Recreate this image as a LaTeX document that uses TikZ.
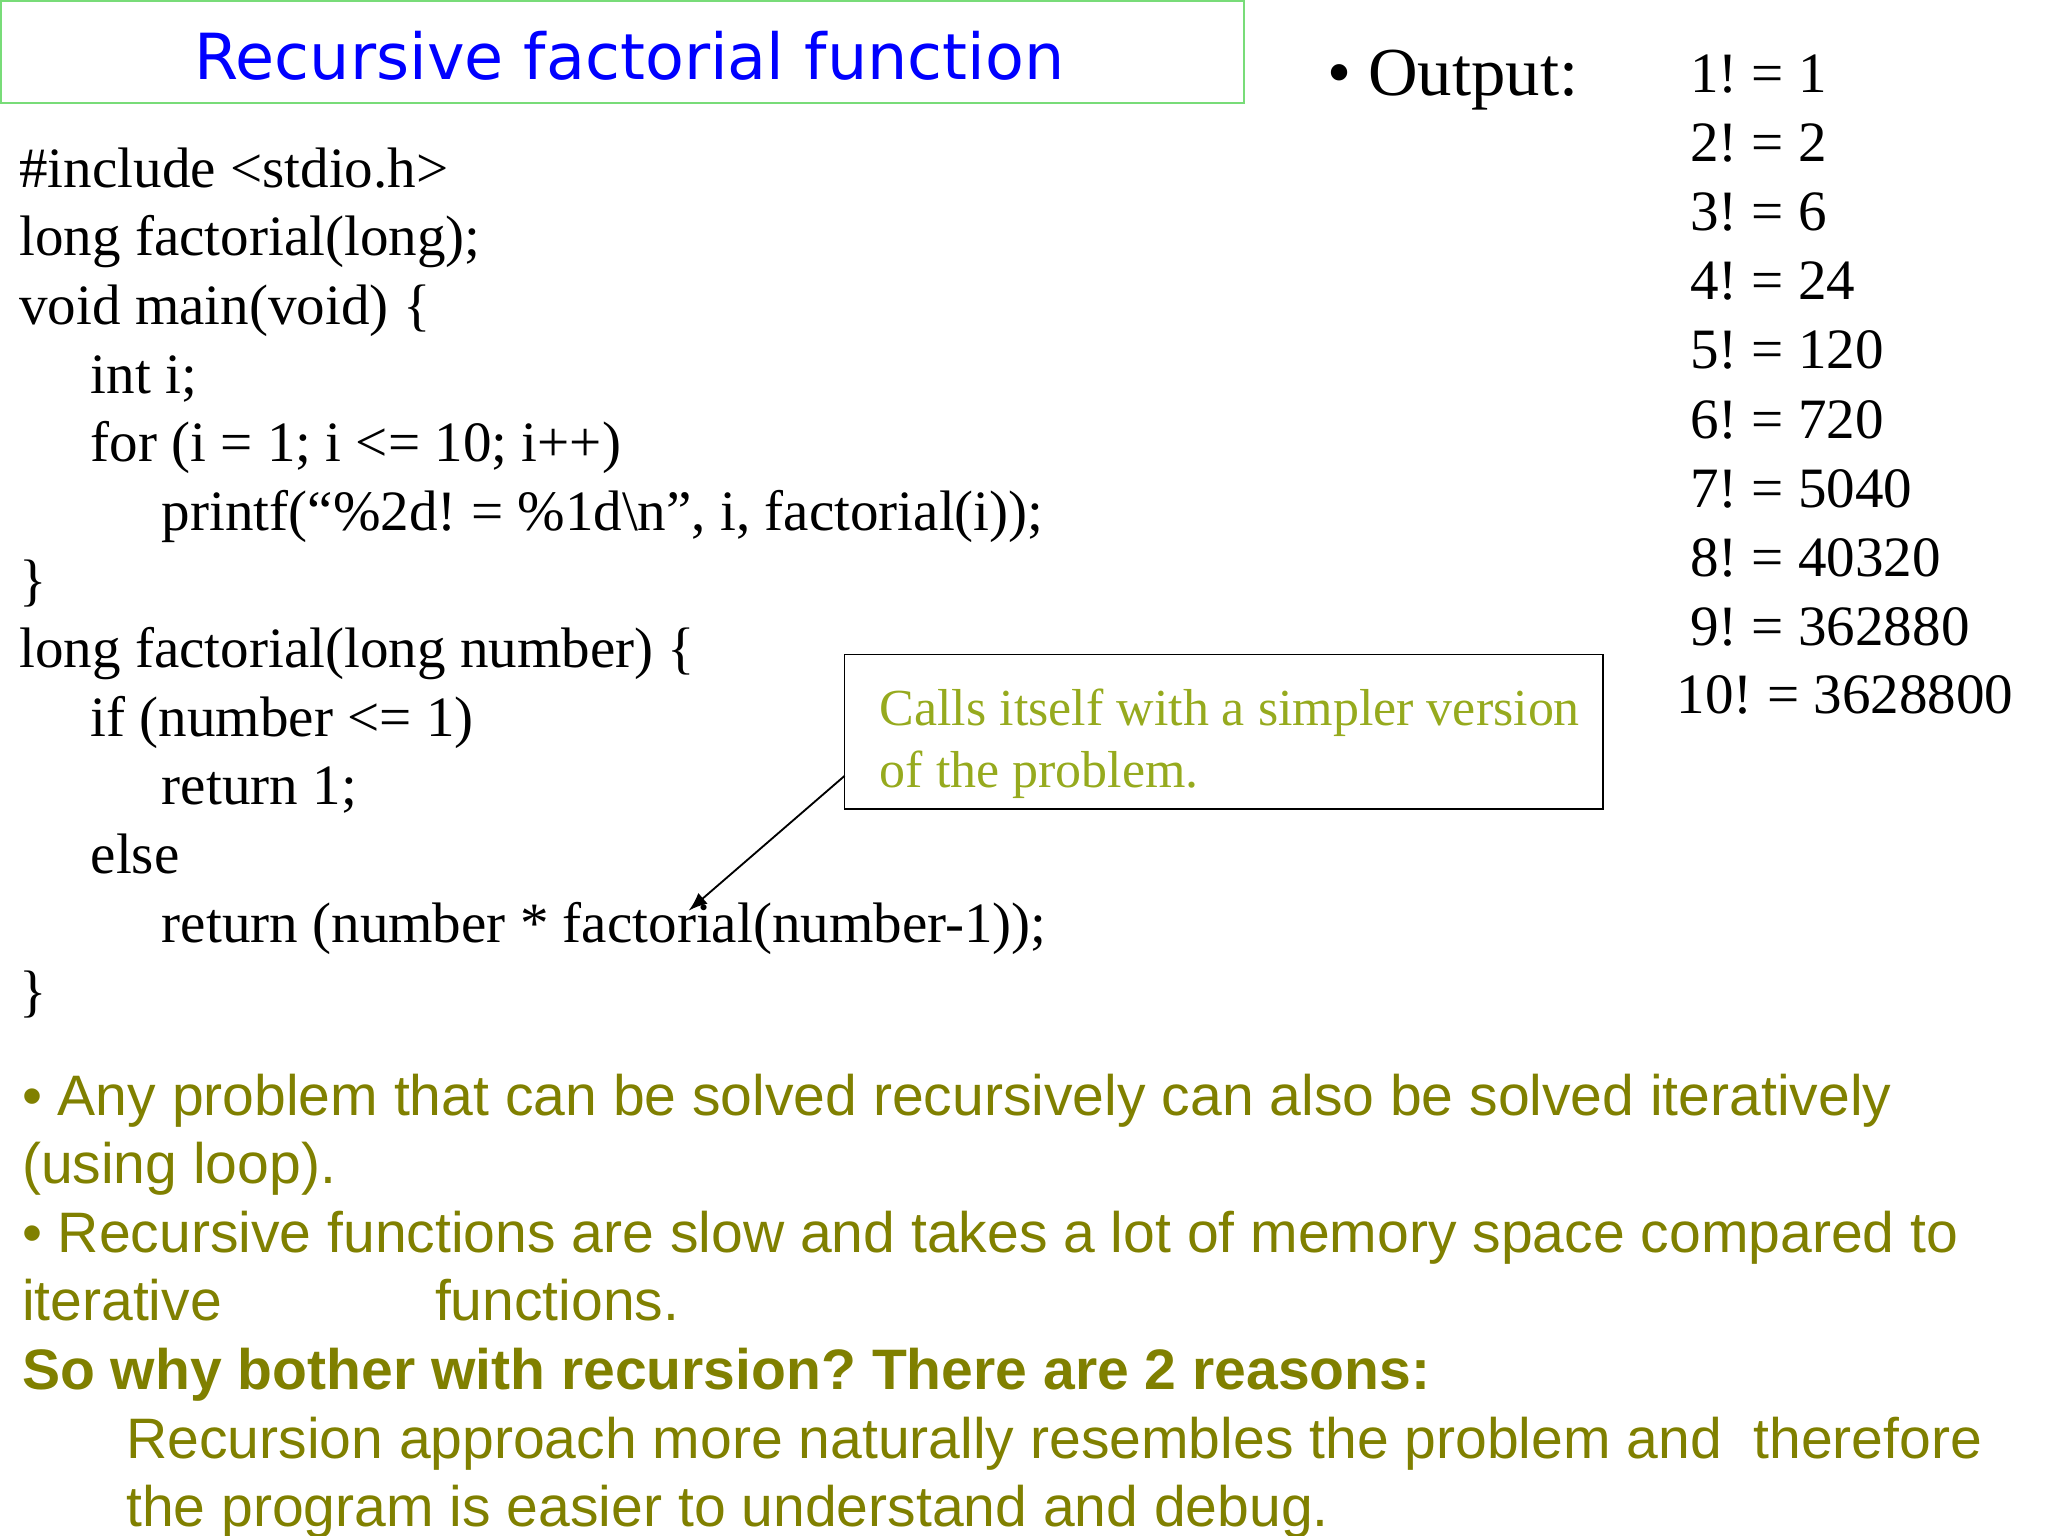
\documentclass[tikz,border=0pt]{standalone}
\usepackage{fontspec}
\setmainfont{Liberation Serif}
\newfontfamily\titlefont{DejaVu Sans}
\newfontfamily\notefont{Liberation Sans}
\definecolor{olivetext}{RGB}{128,128,0}
\definecolor{calltext}{RGB}{150,170,30}
\definecolor{boxgreen}{RGB}{120,220,120}
\frenchspacing
\tikzset{
  codeline/.style={anchor=base west,inner sep=0pt,font=\fontsize{12.3}{15}\selectfont},
  outline/.style={anchor=base west,inner sep=0pt,font=\fontsize{12.3}{15}\selectfont},
  noteline/.style={anchor=base west,inner sep=0pt,text=olivetext,font=\notefont\fontsize{12.3}{15}\selectfont},
  callline/.style={anchor=base west,inner sep=0pt,text=calltext,font=\fontsize{11.2}{13}\selectfont},
}
\begin{document}
\begin{tikzpicture}[x=0.01cm,y=-0.01cm]
  \useasboundingbox (0,0) rectangle (1552,1164);

  % title
  \draw[boxgreen] (1,1) rectangle (943,78);
  \node[inner sep=0pt,text=blue,font=\titlefont\fontsize{13.7}{16}\selectfont] (title) at (477,42) {Recursive factorial function};

  % code
  \node[codeline] (c1) at (14,142) {\#include <stdio.h>};
  \node[codeline] (c2) at (14,194) {long factorial(long);};
  \node[codeline] (c3) at (14,246) {void main(void) \{};
  \node[codeline] (c4) at (68,298) {int i;};
  \node[codeline] (c5) at (68,350) {for (i = 1; i <= 10; i++)};
  \node[codeline] (c6) at (122,402) {printf(“\%2d! = \%1d\textbackslash n”, i, factorial(i));};
  \node[codeline] (c7) at (14,454) {\}};
  \node[codeline] (c8) at (14,506) {long factorial(long number) \{};
  \node[codeline] (c9) at (68,558) {if (number <= 1)};
  \node[codeline] (c10) at (122,610) {return 1;};
  \node[codeline] (c11) at (68,662) {else};
  \node[codeline] (c12) at (122,714) {return (number * factorial(number-1));};
  \node[codeline] (c13) at (14,766) {\}};

  % output
  \node[outline,font=\fontsize{14.8}{17}\selectfont] (out) at (1005,72) {\textbullet\ Output:};
  \foreach \n/\v [count=\k] in {1/1,2/2,3/6,4/24,5/120,6/720,7/5040,8/40320,9/362880}
    \node[outline] (o\k) at (1280,70+52.4*\k-52.4) {\n! = \v};
  \node[outline] (o10) at (1270,541) {10! = 3628800};

  % callout
  \draw (640,496) rectangle (1215,613);
  \node[callline] (call1) at (666,550) {Calls itself with a simpler version};
  \node[callline] (call2) at (666,597) {of the problem.};
  \coordinate (tip) at (522,690);
  \draw[-latex] (640,588) -- (tip);

  % notes
  \node[noteline] (n1) at (16,845) {\textbullet\ Any problem that can be solved recursively can also be solved iteratively};
  \node[noteline] (n2) at (16,897) {(using loop).};
  \node[noteline] (n3) at (16,949) {\textbullet\ Recursive functions are slow and takes a lot of memory space compared to};
  \node[noteline] (n4) at (16,1001) {iterative};
  \node[noteline] (n5) at (329,1001) {functions.};
  \node[noteline,font=\notefont\bfseries\fontsize{12.3}{15}\selectfont] (n6) at (16,1053) {So why bother with recursion? There are 2 reasons:};
  \node[noteline] (n7) at (95,1105) {Recursion approach more naturally resembles the problem and\ \ therefore};
  \node[noteline] (n8) at (95,1157) {the program is easier to understand and debug.};
\end{tikzpicture}
\end{document}
